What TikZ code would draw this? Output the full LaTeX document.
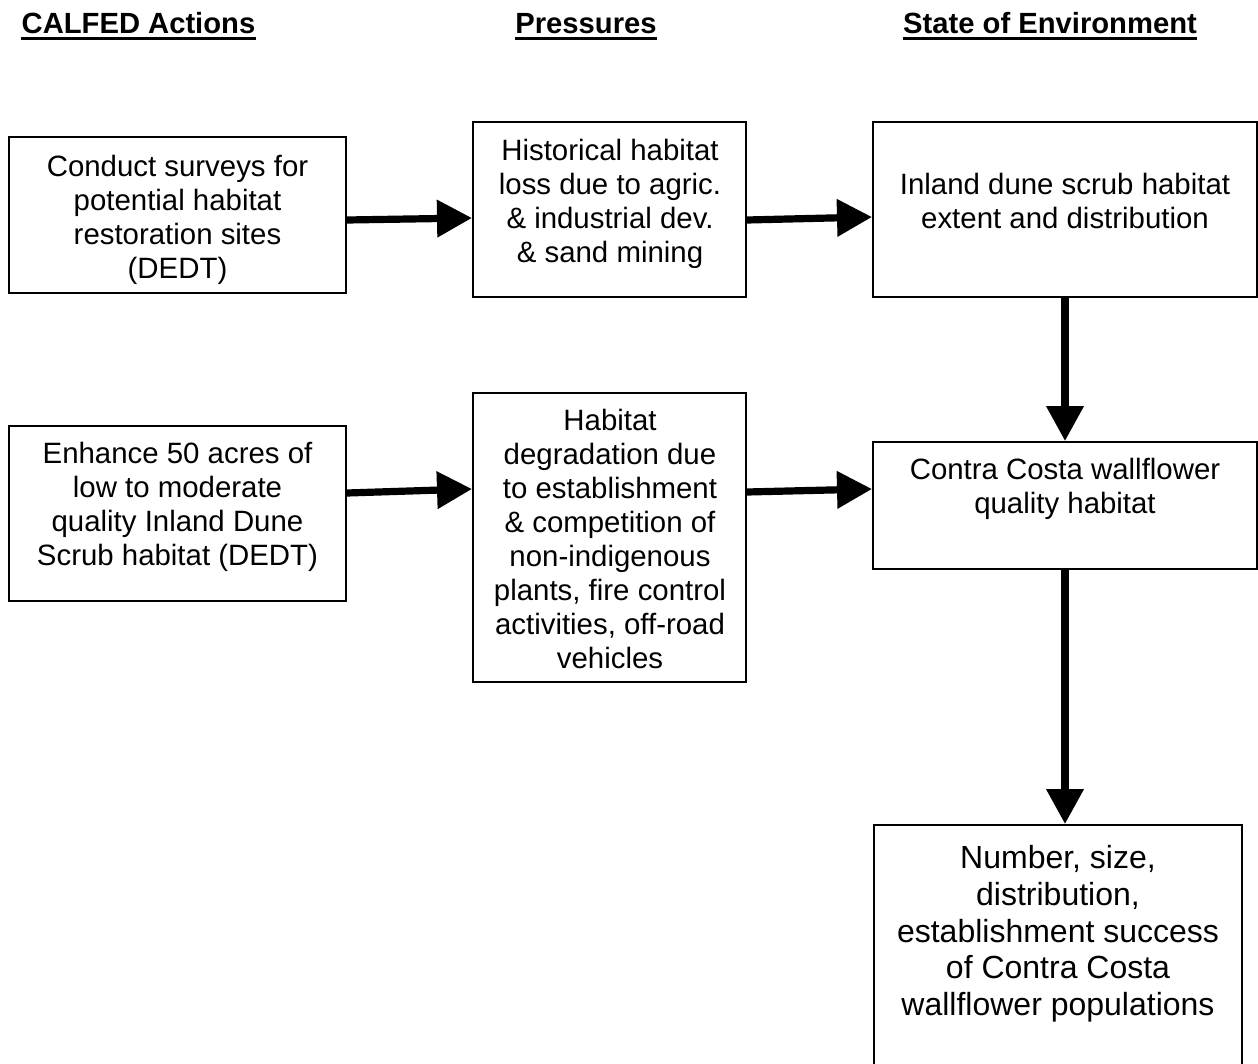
\documentclass[tikz,border=0pt]{standalone}
\usepackage{fontspec}
\setmainfont{Liberation Sans}
\usetikzlibrary{arrows.meta}
\begin{document}
\begin{tikzpicture}[x=0.5pt,y=-0.5pt,
  box/.style={draw=black,line width=1pt,fill=white,inner sep=0pt},
  body/.style={align=center,inner sep=0pt,font=\fontsize{14.7pt}{17pt}\selectfont},
  bigbody/.style={align=center,inner sep=0pt,font=\fontsize{16pt}{18.35pt}\selectfont},
  head/.style={inner sep=0pt,font=\fontsize{14.6pt}{17pt}\selectfont\bfseries},
  headrule/.style={line width=1.5pt},
  flow/.style={line width=3.6pt,-{Triangle[length=17.5pt,width=18pt]}}]

\clip (0,0) rectangle (1258,1064);
\fill[white] (0,0) rectangle (1258,1064);

% column headings
\node[head,anchor=base] (h1) at (138.5,34) {CALFED Actions};
\node[head,anchor=base] (h2) at (586,34) {Pressures};
\node[head,anchor=base] (h3) at (1050,34) {State of Environment};
\foreach \h in {h1,h2,h3}
  \draw[headrule] ([yshift=-2.5pt]\h.base west) -- ([yshift=-2.5pt]\h.base east);

% boxes
\node[box,minimum width=168.5pt,minimum height=78pt] (a1) at (177.5,215) {};
\node[box,minimum width=136.5pt,minimum height=87.5pt] (p1) at (609.5,209.5) {};
\node[box,minimum width=192pt,minimum height=87.5pt] (s1) at (1065,209.5) {};
\node[box,minimum width=168.5pt,minimum height=87.5pt] (a2) at (177.5,513.5) {};
\node[box,minimum width=136.5pt,minimum height=144.5pt] (p2) at (609.5,537.5) {};
\node[box,minimum width=192pt,minimum height=63.5pt] (s2) at (1065,505.5) {};
\node[box,minimum width=184pt,minimum height=137.5pt] (s3) at (1058,962.5) {};

% box texts
\node[body] (a1t) at (177.5,220) {Conduct surveys for\\potential habitat\\restoration sites\\(DEDT)};
\node[body] (p1t) at (610,204) {Historical habitat\\loss due to agric.\\\& industrial dev.\\\& sand mining};
\node[body] (s1t) at (1065,201) {Inland dune scrub habitat\\extent and distribution};
\node[body] (a2t) at (177.5,507) {Enhance 50 acres of\\low to moderate\\quality Inland Dune\\Scrub habitat (DEDT)};
\node[body] (p2t) at (610,539) {Habitat\\degradation due\\to establishment\\\& competition of\\non-indigenous\\plants, fire control\\activities, off-road\\vehicles};
\node[body] (s2t) at (1065,489) {Contra Costa wallflower\\quality habitat};
\node[bigbody] (s3t) at (1058,934) {Number, size,\\distribution,\\establishment success\\of Contra Costa\\wallflower populations};

% connectors
\draw[flow] ([yshift=-2.5pt]a1.east) -- ([yshift=-4.25pt]p1.west);
\draw[flow] ([yshift=-5.25pt]p1.east) -- ([yshift=-3.75pt]s1.west);
\draw[flow] ([yshift=10.25pt]a2.east) -- ([yshift=24.25pt]p2.west);
\draw[flow] ([yshift=22.75pt]p2.east) -- ([yshift=8.25pt]s2.west);
\draw[flow] (s1.south) -- (s2.north);
\draw[flow] (s2.south) -- (s2.south |- s3.north);
\end{tikzpicture}
\end{document}
